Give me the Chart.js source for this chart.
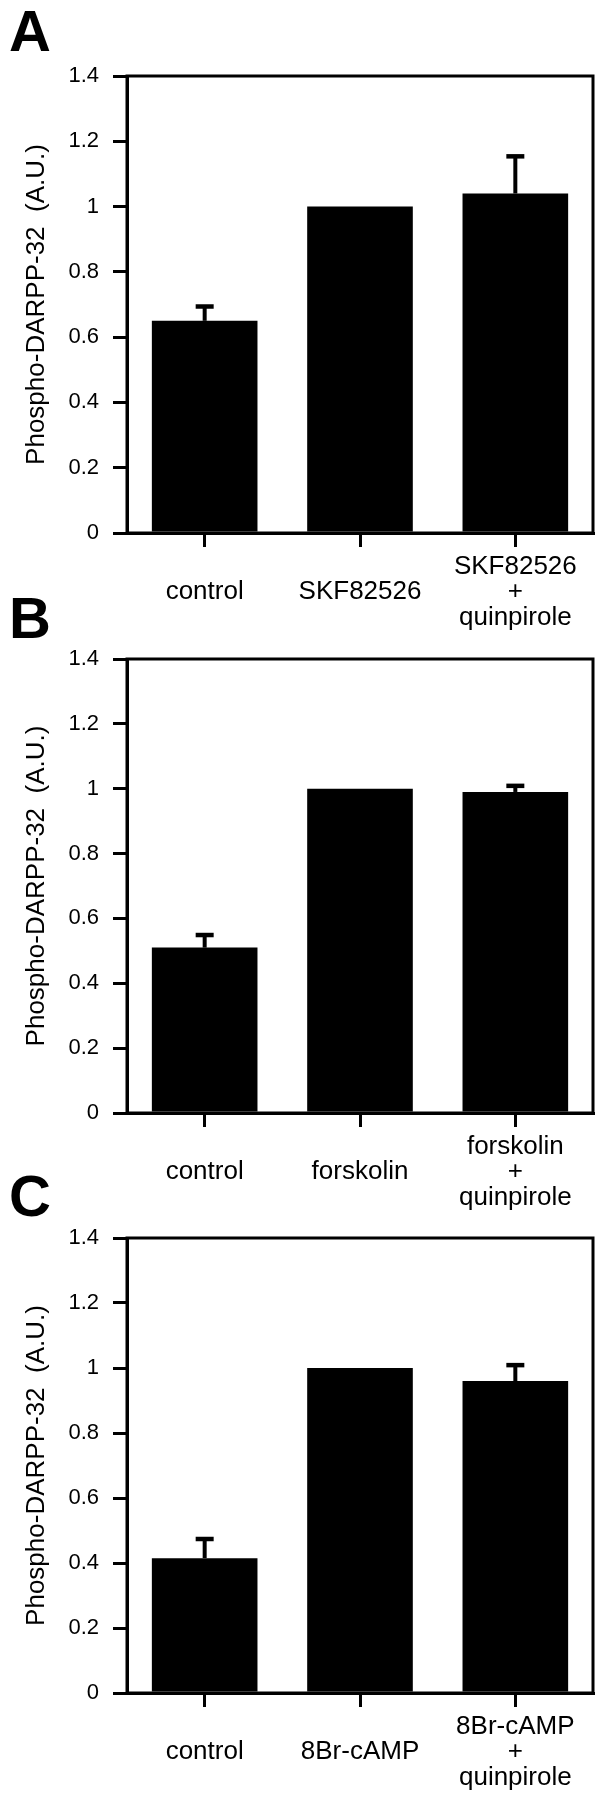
<!DOCTYPE html>
<html>
<head>
<meta charset="utf-8">
<script src="https://cdn.jsdelivr.net/npm/chart.js@4.4.1/dist/chart.umd.min.js"></script>
<style>
  body { margin: 0; background: #fff; }
  #page { position: relative; width: 608px; height: 1800px; overflow: hidden; }
  .panel { position: absolute; left: 0; width: 608px; height: 650px; }
  .letter { position: absolute; left: 9px; font: bold 58px "Liberation Sans", Arial, Helvetica, sans-serif; line-height: 1; }
</style>
</head>
<body>
<div id="page">
  <div class="panel" style="top:0px"><canvas id="chartA" width="608" height="650"></canvas></div>
  <div class="panel" style="top:583px"><canvas id="chartB" width="608" height="650"></canvas></div>
  <div class="panel" style="top:1150px"><canvas id="chartC" width="608" height="650"></canvas></div>
  <div class="letter" style="top:2px">A</div>
  <div class="letter" style="top:589px">B</div>
  <div class="letter" style="top:1167px">C</div>
</div>
<script>
// panel A: D1 agonist
const labelsA = [['', 'control'], ['', 'SKF82526'], ['SKF82526', '+', 'quinpirole']]
const valuesA = [0.65, 1.0, 1.04]
const errorsA = [0.05, 0, 0.12]

// panel B: forskolin
const labelsB = [['', 'control'], ['', 'forskolin'], ['forskolin', '+', 'quinpirole']]
const valuesB = [0.51, 1.0, 0.99]
const errorsB = [0.045, 0, 0.025]

// panel C: 8Br-cAMP
const labelsC = [['', 'control'], ['', '8Br-cAMP'], ['8Br-cAMP', '+', 'quinpirole']]
const valuesC = [0.415, 1.0, 0.96]
const errorsC = [0.065, 0, 0.055]

const yTitle = 'Phospho-DARPP-32  (A.U.)'
const yMin = 0
const yMax = 1.4
const yStep = 0.2

Chart.defaults.font.family = '"Liberation Sans", Arial, Helvetica, sans-serif'
Chart.defaults.color = '#000'

const frameBox = {
    id: 'frameBox',
    afterDatasetsDraw(chart) {
        const {ctx, chartArea} = chart
        ctx.save()
        ctx.strokeStyle = '#000'
        ctx.lineWidth = 3
        ctx.strokeRect(chartArea.left, chartArea.top, chartArea.right - chartArea.left, chartArea.bottom - chartArea.top)
        ctx.restore()
    }
}

const errorBars = {
    id: 'errorBars',
    afterDatasetsDraw(chart) {
        const {ctx} = chart
        const ds = chart.data.datasets[0]
        const meta = chart.getDatasetMeta(0)
        const yScale = chart.scales.y
        ctx.save()
        ctx.strokeStyle = '#000'
        ctx.lineCap = 'butt'
        ds.errors.forEach((err, i) => {
            if (!err) return
            const bar = meta.data[i]
            const top = yScale.getPixelForValue(ds.data[i] + err)
            ctx.lineWidth = 4
            ctx.beginPath()
            ctx.moveTo(bar.x, bar.y)
            ctx.lineTo(bar.x, top + 2)
            ctx.stroke()
            ctx.lineWidth = 4.5
            ctx.beginPath()
            ctx.moveTo(bar.x - 9, top + 2)
            ctx.lineTo(bar.x + 9, top + 2)
            ctx.stroke()
        })
        ctx.restore()
    }
}

function makePanel(canvasId, labels, values, errors, padTop, xHeight) {
    return new Chart(document.getElementById(canvasId), {
        type: 'bar',
        data: {
            labels: labels,
            datasets: [{
                data: values,
                errors: errors,
                backgroundColor: '#000',
                borderWidth: 0,
                barPercentage: 1,
                categoryPercentage: 0.68
            }]
        },
        options: {
            responsive: false,
            animation: false,
            events: [],
            layout: {padding: {top: padTop, right: 15, left: 0, bottom: 0}},
            plugins: {legend: {display: false}, tooltip: {enabled: false}},
            scales: {
                x: {
                    afterFit: (scale) => { scale.height = xHeight },
                    grid: {offset: false, drawOnChartArea: false, tickLength: 14, color: '#000', lineWidth: 3},
                    border: {display: true, color: '#000', width: 3},
                    ticks: {
                        autoSkip: false,
                        maxRotation: 0,
                        padding: 7,
                        color: '#000',
                        font: {size: 26, lineHeight: 0.98}
                    }
                },
                y: {
                    min: yMin,
                    max: yMax,
                    afterFit: (scale) => { scale.width = 127 },
                    grid: {drawOnChartArea: false, tickLength: 14, color: '#000', lineWidth: 3},
                    border: {display: true, color: '#000', width: 3},
                    ticks: {
                        stepSize: yStep,
                        padding: 14,
                        color: '#000',
                        font: {size: 22},
                        callback: (v) => String(Math.round(v * 10) / 10)
                    },
                    title: {
                        display: true,
                        text: yTitle,
                        color: '#000',
                        font: {size: 26},
                        padding: {top: 21, bottom: 0}
                    }
                }
            }
        },
        plugins: [frameBox, errorBars]
    })
}

makePanel('chartA', labelsA, valuesA, errorsA, 76, 117)
makePanel('chartB', labelsB, valuesB, errorsB, 76, 120)
makePanel('chartC', labelsC, valuesC, errorsC, 88, 107)
</script>
</body>
</html>
